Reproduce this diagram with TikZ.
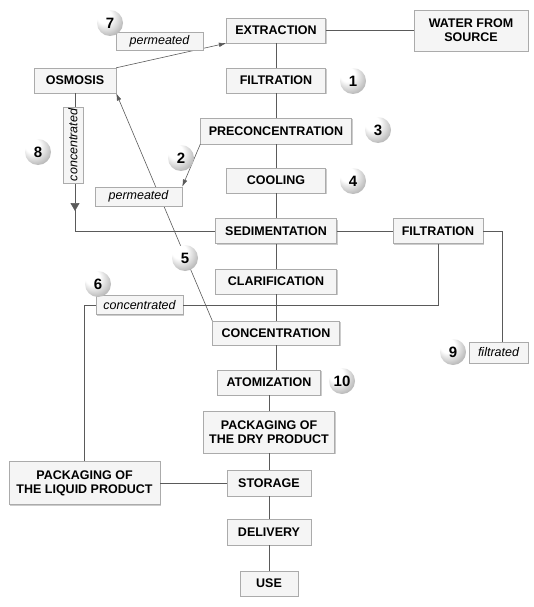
\documentclass[tikz,border=0pt]{standalone}
\usepackage{fontspec}
\setmainfont{Liberation Sans}
\usetikzlibrary{arrows.meta,positioning,calc,shadows}
\definecolor{Line}{HTML}{5A5A5A}
\definecolor{Edge}{HTML}{ABABAB}
\definecolor{Pale}{HTML}{F5F5F5}
\pgfdeclareradialshading{badge}{\pgfpoint{-15bp}{18bp}}{color(0bp)=(white); color(14bp)=(white); color(24bp)=(white!85!black); color(32bp)=(white!72!black); color(40bp)=(white!62!black); color(50bp)=(white!50!black)}

\begin{document}
\begin{tikzpicture}[x=1pt,y=-1pt,
box/.style={draw=Edge,fill=Pale,inner sep=0pt,minimum height=25pt,align=center,font=\fontsize{12.5}{14}\selectfont\bfseries,drop shadow={shadow xshift=1pt,shadow yshift=-1pt,opacity=.4}},
tag/.style={draw=Edge,fill=Pale,inner sep=0pt,minimum height=18pt,font=\fontsize{12.5}{14}\selectfont\itshape,drop shadow={shadow xshift=1pt,shadow yshift=-1pt,opacity=.4}},
ball/.style={circle,inner sep=0pt,minimum size=26pt,shading=badge,font=\fontsize{15}{15}\selectfont\bfseries},
link/.style={draw=Line,line width=.6pt},
arr/.style={link,-{Latex[length=2.6mm,width=1.6mm]}}]
\useasboundingbox (0,0) rectangle (534,607);
% main column
\node[box,minimum width=99pt] (ext) at (276,30.5) {EXTRACTION};
\node[box,minimum width=114pt,minimum height=41pt] (water) at (471,30.5) {WATER FROM\\SOURCE};
\node[box,minimum width=99pt] (filt) at (276,80.5) {FILTRATION};
\node[box,minimum width=151pt,minimum height=26pt] (prec) at (276,131) {PRECONCENTRATION};
\node[box,minimum width=99pt] (cool) at (276,180.5) {COOLING};
\node[box,minimum width=121pt] (sed) at (276,231) {SEDIMENTATION};
\node[box,minimum width=90pt] (filtb) at (438,231) {FILTRATION};
\node[box,minimum width=121pt] (clar) at (276,281.5) {CLARIFICATION};
\node[box,minimum width=127pt,minimum height=24pt] (conc) at (276,333) {CONCENTRATION};
\node[box,minimum width=103pt] (atom) at (269,382.5) {ATOMIZATION};
\node[box,minimum width=131pt,minimum height=42pt] (dry) at (269,432) {PACKAGING OF\\THE DRY PRODUCT};
\node[box,minimum width=84pt,minimum height=26pt] (stor) at (269,483) {STORAGE};
\node[box,minimum width=84pt,minimum height=26pt] (deliv) at (269,532) {DELIVERY};
\node[box,minimum width=58pt] (use) at (269,583.5) {USE};
\node[box,minimum width=151pt,minimum height=43pt] (liq) at (84.5,483) {PACKAGING OF\\THE LIQUID PRODUCT};
\node[box,minimum width=82pt] (osm) at (75,80.5) {OSMOSIS};
% connectors
\draw[link] (ext)--(water);\draw[link] (ext)--(filt);\draw[link] (filt)--(prec);
\draw[link] (prec)--(cool);\draw[link] (cool)--(sed);\draw[link] (sed)--(clar);
\draw[link] (clar)--(conc);\draw[link] (conc.south)--(conc.south |- atom.north);
\draw[link] (atom)--(dry);\draw[link] (dry)--(stor);\draw[link] (stor)--(deliv);
\draw[link] (deliv)--(use);\draw[link] (liq)--(stor);\draw[link] (sed)--(filtb);
\coordinate (ctip) at (75,210);
\draw[link,-{Triangle[length=8pt,width=9pt]},shorten >=-1pt] (osm.south)--(ctip);
\draw[link] (ctip) |- (sed.west);
\draw[arr] (osm.north east)--(ext.south west);
\draw[arr] (conc.north west)--(osm.south east);
% side labels
\node[tag,minimum width=87pt] (perm1) at (159.5,41) {permeated};
\node[tag,minimum width=87pt,minimum height=19pt] (perm2) at (138.5,196.5) {permeated};
\node[tag,minimum width=76pt,minimum height=20pt,rotate=90] (concv) at (73,145) {concentrated};
\node[tag,minimum width=87pt,minimum height=19pt] (conc2) at (139.5,305) {concentrated};
\node[tag,minimum width=59pt,minimum height=21pt] (filtr) at (498.5,352.5) {filtrated};
\draw[arr] (prec.south west)--(perm2.north east);
\draw[link] (filtb.east) -| ([xshift=3.5pt]filtr.north);
\draw[link] (filtb.south) |- (conc2.east);
\draw[link] (conc2.west) -| (liq.north);
% numbered balls
\node[ball] (b1) at (353,81) {1};
\node[ball] (b2) at (181,158) {2};
\node[ball] (b3) at (378,130) {3};
\node[ball] (b4) at (353,181) {4};
\node[ball] (b5) at (185,258) {5};
\node[ball] (b6) at (98,284) {6};
\node[ball] (b7) at (110,23) {7};
\node[ball] (b8) at (38,152) {8};
\node[ball] (b9) at (453,352) {9};
\node[ball] (b10) at (342,381) {10};
\end{tikzpicture}
\end{document}
